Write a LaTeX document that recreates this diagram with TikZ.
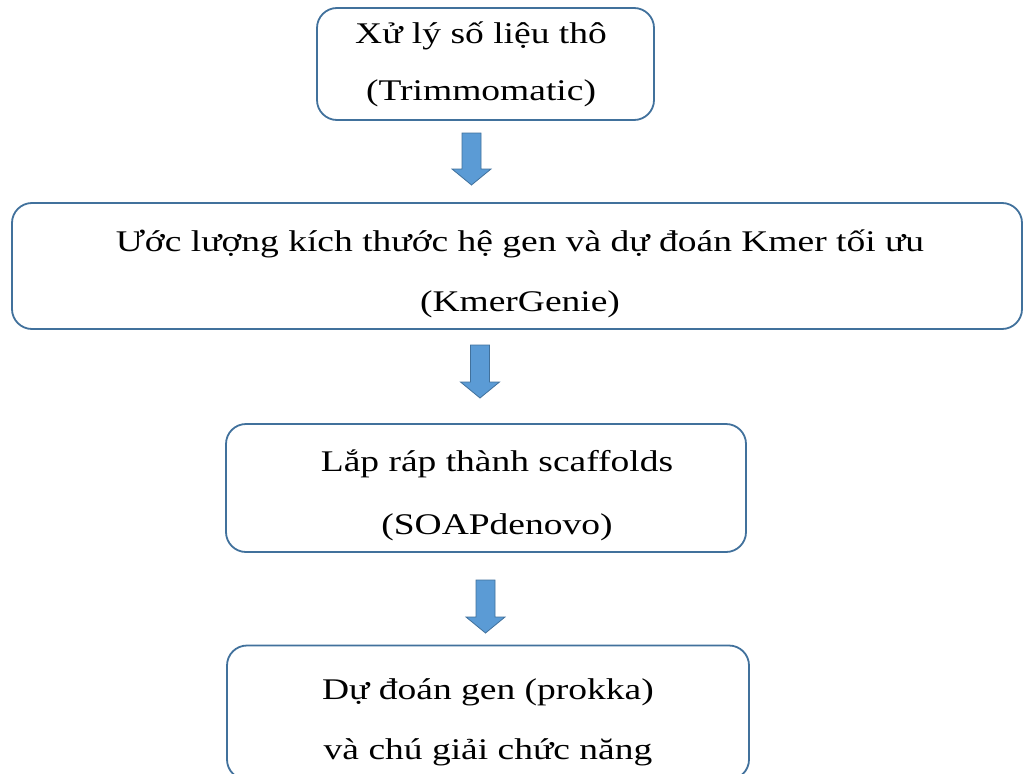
\documentclass[tikz,border=0pt]{standalone}
\usepackage{fontspec}
\setmainfont{Liberation Serif}
\definecolor{boxline}{HTML}{41719C}
\definecolor{arrowfill}{HTML}{5B9BD5}
\begin{document}
\begin{tikzpicture}[x=1pt,y=-1pt,
	box/.style={draw=boxline,line width=1.8pt,rounded corners=20pt,inner sep=0pt},
	txt/.style={align=center,xscale=1.25,font=\fontsize{30}{58}\selectfont},
	blockarrow/.style={fill=arrowfill,draw=boxline,line width=0.8pt}]
	\useasboundingbox[fill=white] (0,0) rectangle (1024,773);
	\node[box,minimum width=337pt,minimum height=112pt] (b1) at (485.5,64) {};
	\node[box,minimum width=1010pt,minimum height=126pt] (b2) at (517,266) {};
	\node[box,minimum width=520pt,minimum height=128pt] (b3) at (486,488) {};
	\node[box,minimum width=522pt,minimum height=134pt] (b4) at (488,712.5) {};
	\node[txt] (t1) at (481,64) {Xử lý số liệu thô\\[-1pt](Trimmomatic)};
	\node[txt] (t2) at (520,274) {Ước lượng kích thước hệ gen và dự đoán Kmer tối ưu\\[2pt](KmerGenie)};
	\node[txt] (t3) at (497,495) {Lắp ráp thành scaffolds\\[5pt](SOAPdenovo)};
	\node[txt] (t4) at (488,722) {Dự đoán gen (prokka)\\[2pt]và chú giải chức năng};
	\foreach \cx/\top/\hy/\tip in {471.5/133/169/185, 480/345/382/398, 485.5/580/617/633}
		\draw[blockarrow] (\cx-9.5,\top) -- (\cx+9.5,\top) -- (\cx+9.5,\hy) -- (\cx+19.5,\hy)
			-- (\cx,\tip) -- (\cx-19.5,\hy) -- (\cx-9.5,\hy) -- cycle;
\end{tikzpicture}
\end{document}
